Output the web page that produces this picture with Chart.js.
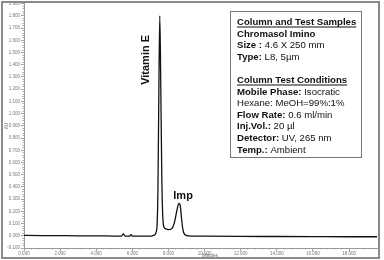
<!DOCTYPE html>
<html>
<head>
<meta charset="utf-8">
<script src="https://cdn.jsdelivr.net/npm/chart.js@4"></script>
<style>
  html, body { margin: 0; padding: 0; background: #fff; }
</style>
</head>
<body>
<canvas id="chromChart" width="384" height="260"></canvas>
<script>
// Chromatogram data (minutes, AU)
const times = [0, 1, 2, 3, 4, 5, 5.4, 5.5, 5.6, 5.85, 5.93, 6.0, 7.0, 7.2, 7.35, 7.42, 7.47, 7.52, 7.57, 7.63, 7.7, 7.78, 7.9, 8.05, 8.2, 8.35, 8.47, 8.58, 8.65, 8.72, 8.8, 8.9, 9.1, 10, 12, 14, 16, 18, 19.6];
const absorbance = [0.003, 0.002, 0.001, 0.000, 0.000, -0.002, -0.002, 0.015, -0.002, -0.002, 0.010, -0.003, -0.003, 0.005, 0.05, 0.40, 1.20, 1.80, 1.30, 0.50, 0.12, 0.065, 0.055, 0.05, 0.06, 0.12, 0.21, 0.265, 0.25, 0.15, 0.05, 0.01, 0.000, -0.003, -0.005, -0.006, -0.007, -0.008, -0.008];

// Axis ranges
const xMin = 0, xMax = 19.55, xStep = 2, xMinorStep = 0.4;
const yMin = -0.1, yMax = 1.9, yStep = 0.1, yMinorStep = 0.02;

// Peak labels
const peakLabels = [
  { text: 'Vitamin E', x: 6.76, y: 1.44, rotate: true },
  { text: 'Imp', x: 8.81, y: 0.325, rotate: false }
];

// Info box lines: [bold part, normal part, underline]
const infoLines = [
  ['Column and Test Samples', '', true],
  ['Chromasol Imino', '', false],
  ['Size : ', '4.6 X 250 mm', false],
  ['Type: ', 'L8, 5\u00b5m', false],
  ['', '', false],
  ['Column Test Conditions', '', true],
  ['Mobile Phase: ', 'Isocratic', false],
  ['', 'Hexane: MeOH=99%:1%', false],
  ['Flow Rate: ', '0.6 ml/min', false],
  ['Inj.Vol.: ', '20 \u00b5l', false],
  ['Detector: ', 'UV, 265 nm', false],
  ['Temp.: ', 'Ambient', false]
];

const FONT = '"Liberation Sans", Arial, sans-serif';

const decorPlugin = {
  id: 'decor',
  afterDraw(chart) {
    const ctx = chart.ctx;
    const xs = chart.scales.x, ys = chart.scales.y;
    ctx.save();

    // peak labels
    ctx.fillStyle = '#111';
    ctx.font = 'bold 11px ' + FONT;
    ctx.textAlign = 'center';
    ctx.textBaseline = 'middle';
    peakLabels.forEach(p => {
      const px = xs.getPixelForValue(p.x);
      const py = ys.getPixelForValue(p.y);
      ctx.save();
      ctx.translate(px, py);
      if (p.rotate) ctx.rotate(-Math.PI / 2);
      ctx.fillText(p.text, 0, 0);
      ctx.restore();
    });

    // axis titles
    ctx.fillStyle = '#666';
    ctx.font = '4.5px ' + FONT;
    ctx.fillText('Minutes', 210, 256);
    ctx.save();
    ctx.translate(7, 126);
    ctx.rotate(-Math.PI / 2);
    ctx.fillText('AU', 0, 0);
    ctx.restore();

    // info box
    const bx = 230.5, by = 11.5, bw = 131, bh = 146;
    ctx.fillStyle = '#fff';
    ctx.fillRect(bx, by, bw, bh);
    ctx.strokeStyle = '#777';
    ctx.lineWidth = 1;
    ctx.strokeRect(bx, by, bw, bh);

    ctx.textAlign = 'left';
    ctx.textBaseline = 'alphabetic';
    ctx.fillStyle = '#111';
    let ly = 25;
    infoLines.forEach(([b, n, u]) => {
      let lx = 237;
      if (b) {
        ctx.font = 'bold 9.6px ' + FONT;
        ctx.fillText(b, lx, ly);
        const w = ctx.measureText(b).width;
        if (u) ctx.fillRect(lx, ly + 1.5, w, 1);
        lx += w;
      }
      if (n) {
        ctx.font = '9.6px ' + FONT;
        ctx.fillText(n, lx, ly);
      }
      ly += 11.6;
    });

    // outer frame
    ctx.strokeStyle = '#8a8a8a';
    ctx.lineWidth = 2;
    ctx.strokeRect(2, 2, 377, 256);
    ctx.restore();
  }
};

const ctx = document.getElementById('chromChart').getContext('2d');
new Chart(ctx, {
  type: 'line',
  data: {
    datasets: [{
      data: times.map((t, i) => ({ x: t, y: absorbance[i] })),
      borderColor: '#111',
      borderWidth: 1.3,
      pointRadius: 0,
      fill: false,
      cubicInterpolationMode: 'monotone'
    }]
  },
  options: {
    responsive: false,
    animation: false,
    devicePixelRatio: 1,
    layout: { padding: { left: 2, right: 7, top: 3, bottom: 1 } },
    plugins: { legend: { display: false }, tooltip: { enabled: false } },
    scales: {
      x: {
        type: 'linear', min: xMin, max: xMax, weight: 1,
        border: { color: '#999', width: 1 },
        grid: { display: true, drawOnChartArea: false, tickLength: 3, color: '#999' },
        ticks: {
          stepSize: xStep, includeBounds: false, color: '#777', padding: 0,
          font: { size: 4.5, family: FONT },
          maxRotation: 0, autoSkip: false,
          callback: v => v.toFixed(3)
        },
        afterFit: s => { s.height = 11; }
      },
      x2: {
        type: 'linear', min: xMin, max: xMax, position: 'bottom', weight: 0,
        border: { display: false },
        grid: { display: true, drawOnChartArea: false, tickLength: 1.5, color: '#aaa' },
        ticks: { stepSize: xMinorStep, includeBounds: false, display: false, autoSkip: false },
        afterFit: s => { s.height = 0; }
      },
      y: {
        type: 'linear', min: yMin, max: yMax, weight: 1,
        border: { color: '#999', width: 1 },
        grid: { display: true, drawOnChartArea: false, tickLength: 3, color: '#999' },
        ticks: {
          stepSize: yStep, color: '#777', padding: 1,
          font: { size: 4.5, family: FONT },
          autoSkip: false,
          callback: v => v.toFixed(3)
        },
        afterFit: s => { s.width = 22; }
      },
      y2: {
        type: 'linear', min: yMin, max: yMax, position: 'left', weight: 0,
        border: { display: false },
        grid: { display: true, drawOnChartArea: false, tickLength: 1.5, color: '#aaa' },
        ticks: { stepSize: yMinorStep, display: false, autoSkip: false },
        afterFit: s => { s.height = 0; s.width = 0; }
      }
    }
  },
  plugins: [decorPlugin]
});
</script>
</body>
</html>
